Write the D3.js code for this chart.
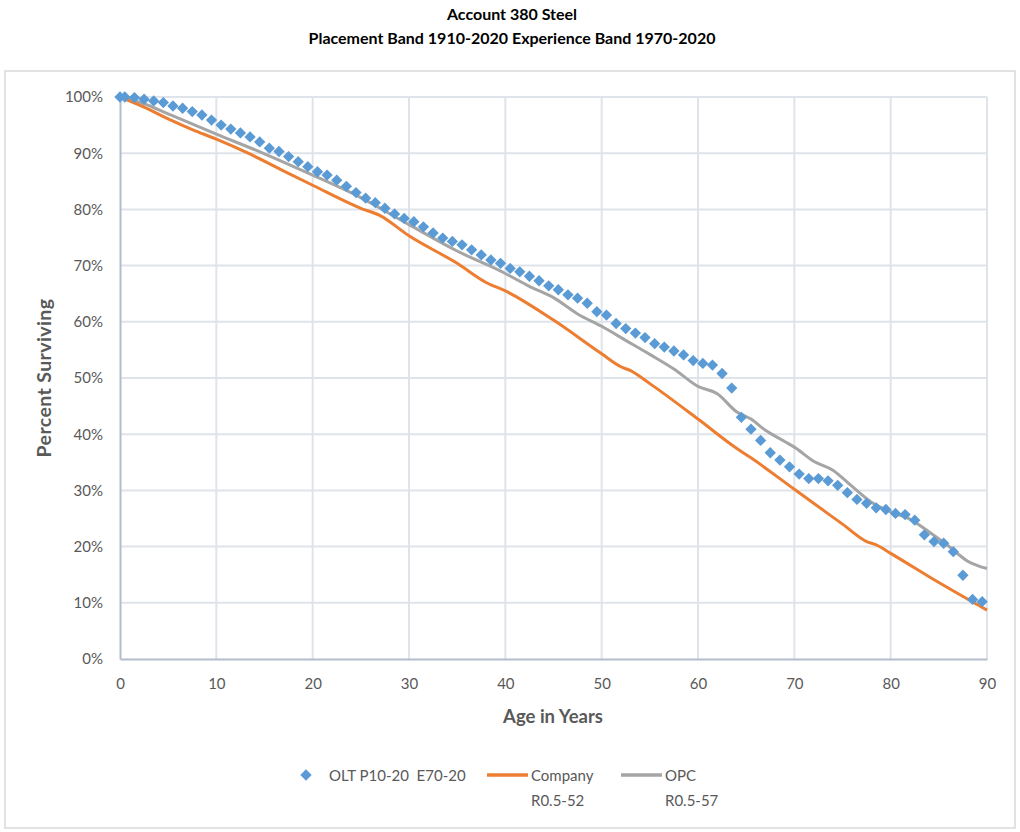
<!DOCTYPE html>
<html>
<head>
<meta charset="utf-8">
<script src="https://cdn.jsdelivr.net/npm/d3@7"></script>
<style>
  body { margin: 0; background: #fff; }
  text { font-family: Lato, "Open Sans", sans-serif; white-space: pre; }
</style>
</head>
<body>
<svg id="chart" width="1020" height="832"></svg>
<script>
// Observed life table points (age, % surviving)
const oltAges = [0, 0.5, 1.5, 2.5, 3.5, 4.5, 5.5, 6.5, 7.5, 8.5, 9.5, 10.5, 11.5, 12.5, 13.5, 14.5,
  15.5, 16.5, 17.5, 18.5, 19.5, 20.5, 21.5, 22.5, 23.5, 24.5, 25.5, 26.5, 27.5, 28.5, 29.5,
  30.5, 31.5, 32.5, 33.5, 34.5, 35.5, 36.5, 37.5, 38.5, 39.5, 40.5, 41.5, 42.5, 43.5, 44.5,
  45.5, 46.5, 47.5, 48.5, 49.5, 50.5, 51.5, 52.5, 53.5, 54.5, 55.5, 56.5, 57.5, 58.5, 59.5,
  60.5, 61.5, 62.5, 63.5, 64.5, 65.5, 66.5, 67.5, 68.5, 69.5, 70.5, 71.5, 72.5, 73.5, 74.5,
  75.5, 76.5, 77.5, 78.5, 79.5, 80.5, 81.5, 82.5, 83.5, 84.5, 85.5, 86.5, 87.5, 88.5, 89.5];
const oltPct = [100, 100, 99.9, 99.6, 99.3, 99.0, 98.4, 98.0, 97.4, 96.8, 95.9, 95.0, 94.3, 93.6, 92.9, 92.0,
  90.9, 90.3, 89.4, 88.5, 87.6, 86.7, 86.1, 85.2, 84.1, 83.0, 82.0, 81.2, 80.2, 79.2, 78.4,
  77.8, 76.9, 75.8, 74.9, 74.3, 73.7, 72.8, 71.9, 71.0, 70.4, 69.5, 68.9, 68.1, 67.3, 66.4,
  65.7, 64.8, 64.2, 63.3, 61.8, 61.2, 59.7, 58.8, 58.0, 57.2, 56.1, 55.5, 54.8, 54.1, 53.1,
  52.6, 52.3, 50.8, 48.2, 43.0, 40.9, 38.9, 36.7, 35.4, 34.2, 32.9, 32.1, 32.1, 31.7, 30.9,
  29.6, 28.4, 27.7, 26.9, 26.6, 25.9, 25.7, 24.7, 22.1, 20.9, 20.6, 19.1, 14.9, 10.6, 10.2];

// Company curve R0.5-52
const companyAges = [0, 2.5, 5, 7.5, 10, 13.3, 16.8, 20, 25, 27, 30, 35, 38, 40, 45, 50, 52, 53, 55, 60, 64, 65.5, 70, 75, 77.5, 78.5, 80, 85, 90];
const companyPct = [100, 98.2, 96.1, 94.2, 92.5, 90.0, 87.0, 84.3, 80.2, 78.9, 75.3, 70.4, 67.0, 65.5, 60.3, 54.3, 52.0, 51.3, 49.0, 42.7, 37.5, 35.8, 30.2, 24.0, 20.9, 20.3, 18.8, 13.6, 8.7];

// OPC curve R0.5-57
const opcAges = [0, 2.5, 5, 10, 15, 20, 25, 30, 35, 40, 42.5, 45, 47.5, 50, 52.5, 55, 57.5, 60, 62, 64, 65.5, 67, 69, 70, 72, 74, 76, 78, 80, 82, 84, 86, 88, 90];
const opcPct = [100, 98.8, 97.0, 93.4, 89.9, 86.1, 82.1, 77.3, 72.6, 68.6, 66.3, 64.3, 61.4, 59.2, 56.7, 54.2, 51.6, 48.5, 47.2, 44.0, 42.7, 40.7, 38.7, 37.7, 35.2, 33.6, 30.7, 27.9, 26.2, 24.9, 22.6, 20.1, 17.4, 16.1];

const xTicks = [0, 10, 20, 30, 40, 50, 60, 70, 80, 90];
const yTicks = [0, 10, 20, 30, 40, 50, 60, 70, 80, 90, 100];

const svg = d3.select("#chart");
const plotLeft = 120, plotRight = 987, plotTop = 97, plotBottom = 659;

// Outer frame
svg.append("rect")
  .attr("x", 5).attr("y", 71).attr("width", 1010).attr("height", 757)
  .attr("fill", "none").attr("stroke", "#d9d9d9").attr("stroke-width", 1.5);

// Titles
svg.append("text").attr("x", 512).attr("y", 20).attr("text-anchor", "middle")
  .attr("font-size", 16).attr("font-weight", "bold").attr("fill", "#000")
  .text("Account 380 Steel");
svg.append("text").attr("x", 512).attr("y", 44).attr("text-anchor", "middle")
  .attr("font-size", 16).attr("font-weight", "bold").attr("fill", "#000")
  .text("Placement Band 1910-2020 Experience Band 1970-2020");

const x = d3.scaleLinear().domain([0, 90]).range([plotLeft, plotRight]);
const y = d3.scaleLinear().domain([0, 100]).range([plotBottom, plotTop]);

// Gridlines
const grid = svg.append("g").attr("stroke", "#dfe3ea").attr("stroke-width", 2);
grid.selectAll("line.h").data(yTicks.filter(d => d > 0)).join("line")
  .attr("class", "h")
  .attr("x1", plotLeft).attr("x2", plotRight)
  .attr("y1", d => y(d)).attr("y2", d => y(d));
grid.selectAll("line.v").data(xTicks.filter(d => d > 0)).join("line")
  .attr("class", "v")
  .attr("x1", d => x(d)).attr("x2", d => x(d))
  .attr("y1", plotTop).attr("y2", plotBottom);

// Axes
const yAxis = svg.append("g").attr("transform", `translate(${plotLeft},0)`)
  .call(d3.axisLeft(y).tickValues(yTicks).tickSize(0).tickPadding(17).tickFormat(d => d + "%"));
const xAxis = svg.append("g").attr("transform", `translate(0,${plotBottom})`)
  .call(d3.axisBottom(x).tickValues(xTicks).tickSize(0).tickPadding(19));
[yAxis, xAxis].forEach(a => {
  a.select(".domain").attr("stroke", "#b4bdcb").attr("stroke-width", 2);
  a.selectAll("text").attr("font-size", 15).attr("fill", "#595959")
    .attr("font-family", "Lato, sans-serif");
});

// Axis titles
svg.append("text").attr("transform", "translate(51,378) rotate(-90)")
  .attr("text-anchor", "middle").attr("font-size", 19.5).attr("font-weight", "bold")
  .attr("letter-spacing", 0.4)
  .attr("fill", "#595959").text("Percent Surviving");
svg.append("text").attr("x", 553).attr("y", 723).attr("text-anchor", "middle")
  .attr("font-size", 18.5).attr("font-weight", "bold")
  .attr("fill", "#595959").text("Age in Years");

// Curves
const line = d3.line().x(d => x(d[0])).y(d => y(d[1])).curve(d3.curveMonotoneX);
svg.append("path").datum(d3.zip(opcAges, opcPct))
  .attr("d", line).attr("fill", "none").attr("stroke", "#a5a5a5").attr("stroke-width", 3);
svg.append("path").datum(d3.zip(companyAges, companyPct))
  .attr("d", line).attr("fill", "none").attr("stroke", "#ed7d31").attr("stroke-width", 3);

// OLT diamonds
const diamond = d3.symbol(d3.symbolSquare, 64);
svg.append("g").selectAll("path").data(d3.zip(oltAges, oltPct)).join("path")
  .attr("d", diamond)
  .attr("transform", d => `translate(${x(d[0])},${y(d[1])}) rotate(45)`)
  .attr("fill", "#5b9bd5");

// Legend
const lg = svg.append("g").attr("font-size", 15).attr("fill", "#595959");
lg.append("path").attr("d", diamond).attr("transform", "translate(306,775) rotate(45)").attr("fill", "#5b9bd5");
lg.append("text").attr("x", 329).attr("y", 781).attr("fill", "#595959").text("OLT P10-20  E70-20");
lg.append("line").attr("x1", 487).attr("x2", 528).attr("y1", 775).attr("y2", 775)
  .attr("stroke", "#ed7d31").attr("stroke-width", 3.5);
lg.append("text").attr("x", 531).attr("y", 781).attr("fill", "#595959").text("Company");
lg.append("text").attr("x", 531).attr("y", 806).attr("fill", "#595959").text("R0.5-52");
lg.append("line").attr("x1", 621).attr("x2", 662).attr("y1", 775).attr("y2", 775)
  .attr("stroke", "#a5a5a5").attr("stroke-width", 3.5);
lg.append("text").attr("x", 665).attr("y", 781).attr("fill", "#595959").text("OPC");
lg.append("text").attr("x", 665).attr("y", 806).attr("fill", "#595959").text("R0.5-57");
</script>
</body>
</html>
